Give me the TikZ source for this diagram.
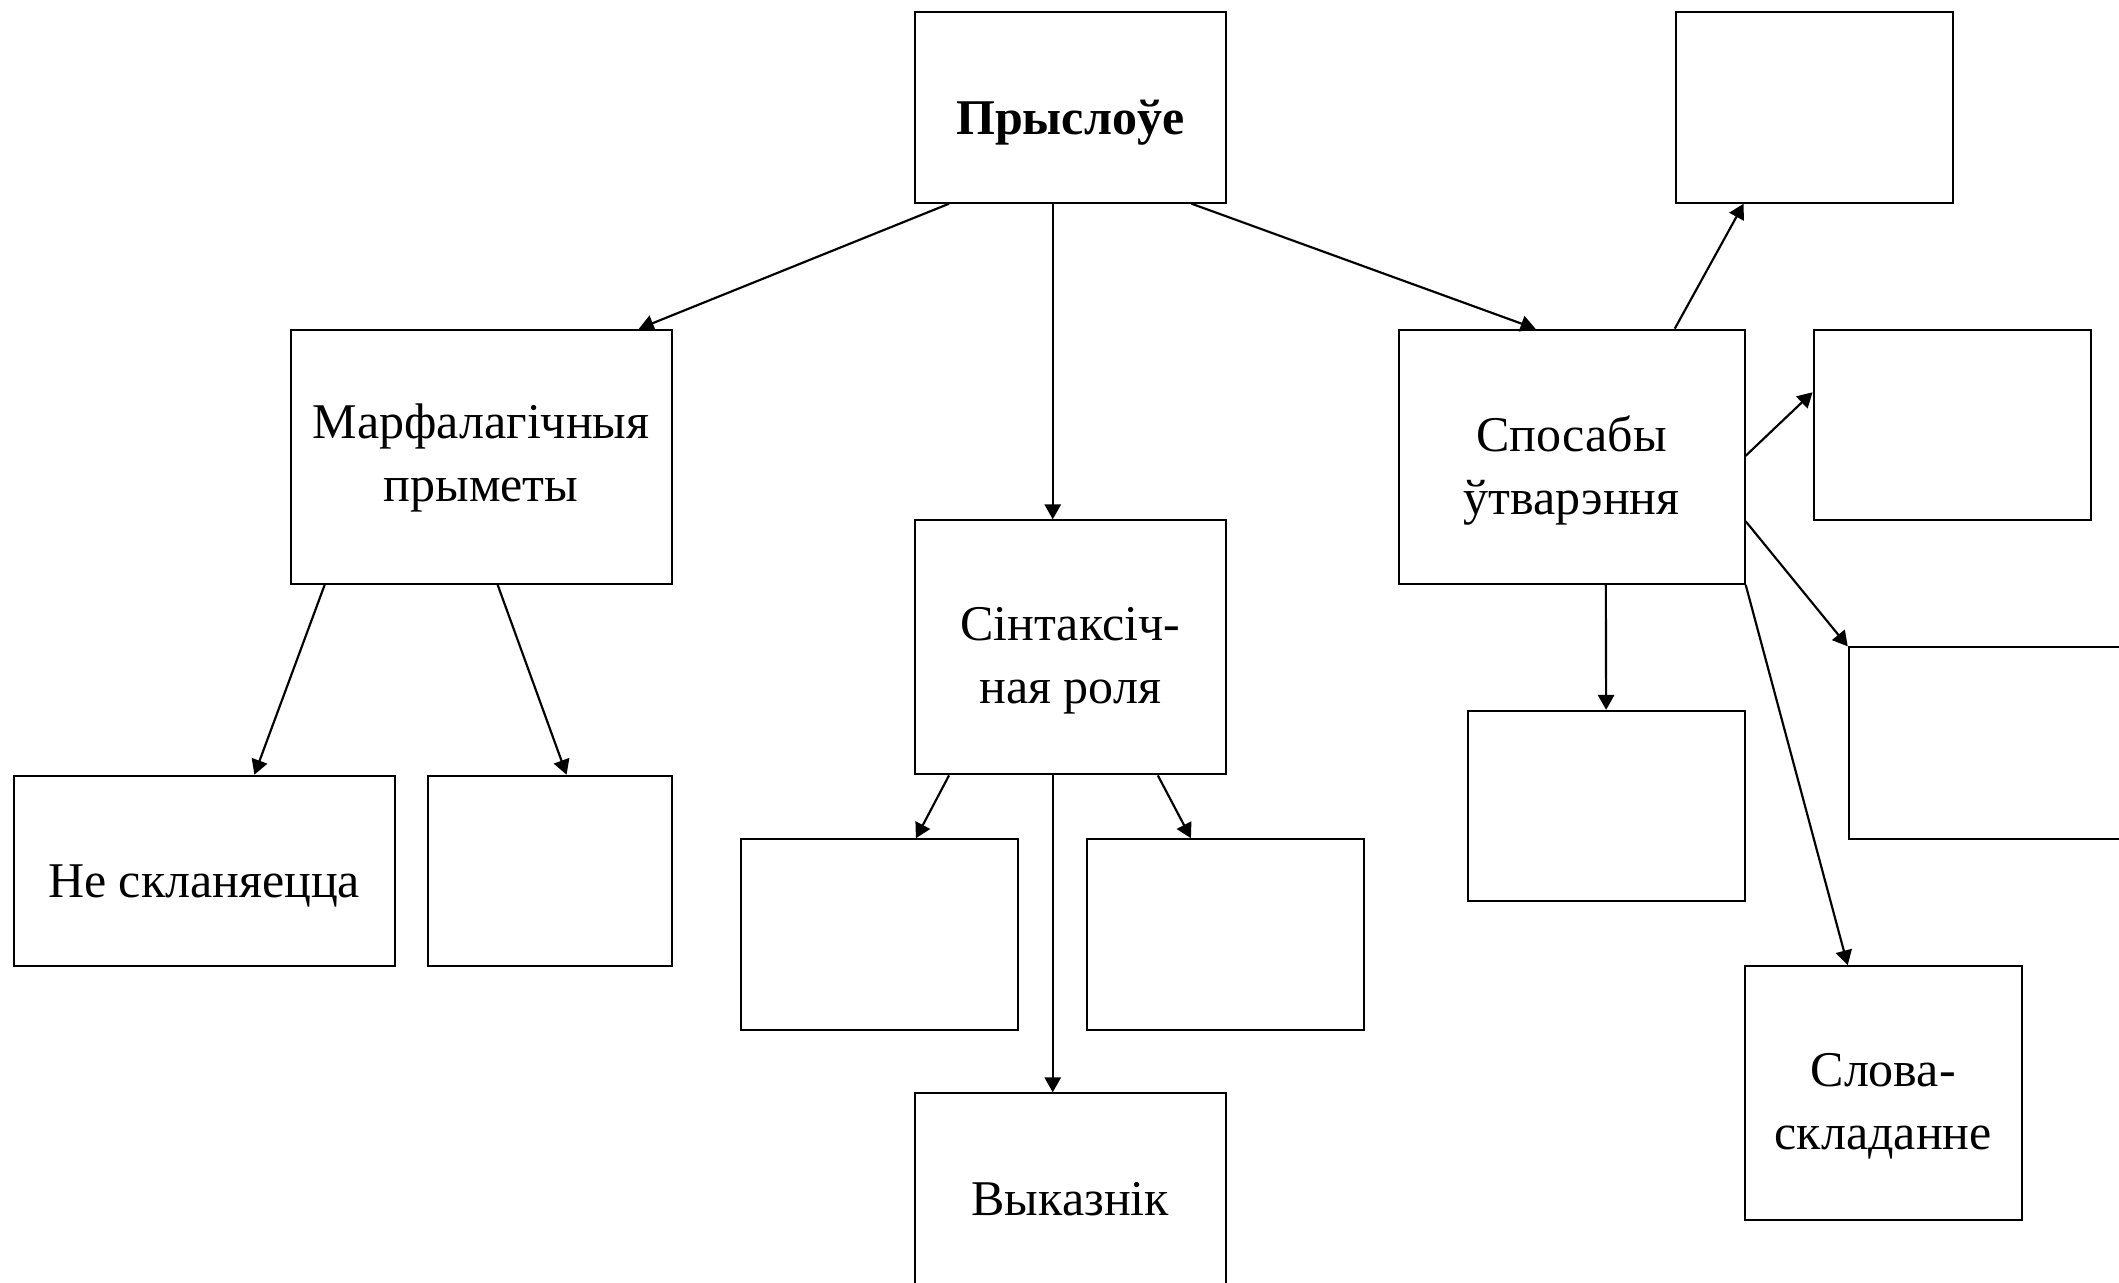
\documentclass[tikz,border=0pt]{standalone}
\usepackage{fontspec}
\setmainfont{Liberation Serif}
\usetikzlibrary{arrows.meta,calc}
\begin{document}
\begin{tikzpicture}[x=0.5pt, y=-0.5pt,
    box/.style={draw, line width=0.75pt, inner sep=0pt},
    txt/.style={align=center, inner sep=0pt, font=\fontsize{18.5}{23.5}\selectfont},
    arr/.style={line width=0.8pt, -{Triangle[length=5.5pt, width=6pt]}}]
    \useasboundingbox (0,0) rectangle (1568,949);
    \node[box, minimum width=115pt, minimum height=70.5pt,
        label={[txt, yshift=-5.5pt]center:\textbf{Прыслоўе}}] (top) at (792,79.5) {};
    \node[box, minimum width=141pt, minimum height=94pt,
        label={[txt, yshift=-0.5pt]center:{Марфалагічныя\\прыметы}}] (morph) at (356,338) {};
    \node[box, minimum width=115pt, minimum height=94pt,
        label={[txt, yshift=-5pt]center:{Сінтаксіч-\\ная роля}}] (synt) at (792,479) {};
    \node[box, minimum width=128pt, minimum height=94pt,
        label={[txt, yshift=-5pt]center:{Спосабы\\ўтварэння}}] (spos) at (1163,338) {};
    \node[box, minimum width=102.5pt, minimum height=70.5pt] (r1) at (1342.5,79.5) {};
    \node[box, minimum width=102.5pt, minimum height=70.5pt] (r2) at (1444.5,314.5) {};
    \node[box, minimum width=102.5pt, minimum height=71pt] (r3) at (1470.5,550) {};
    \node[box, minimum width=102.5pt, minimum height=70.5pt] (b1) at (1188.5,596.5) {};
    \node[box, minimum width=102.5pt, minimum height=94pt,
        label={[txt, yshift=-4.75pt]center:{Слова-\\складанне}}] (slova) at (1393.5,809) {};
    \node[box, minimum width=141pt, minimum height=70.5pt,
        label={[txt, yshift=-5.5pt]center:Не скланяецца}] (nesk) at (151,644.5) {};
    \node[box, minimum width=90pt, minimum height=70.5pt] (e2) at (407,644.5) {};
    \node[box, minimum width=102.5pt, minimum height=70.5pt] (s1) at (650.5,691.5) {};
    \node[box, minimum width=102.5pt, minimum height=70.5pt] (s2) at (906.5,691.5) {};
    \node[box, minimum width=115pt, minimum height=78pt,
        label={[txt]center:Выказнік}] (vyk) at (792,887) {};
    \draw[arr] ($(top.south west)+(26,0)$) -- ($(morph.north east)+(-25,0)$);
    \draw[arr] ($(top.south)+(-13,0)$) -- ($(synt.north)+(-13,0)$);
    \draw[arr] ($(top.south east)+(-26,0)$) -- ($(spos.north west)+(102,0)$);
    \draw[arr] ($(morph.south west)+(26,0)$) -- ($(nesk.north west)+(179,0)$);
    \draw[arr] ($(morph.south west)+(154,0)$) -- ($(e2.north west)+(103,0)$);
    \draw[arr] ($(synt.south west)+(26,0)$) -- ($(s1.north east)+(-76,0)$);
    \draw[arr] ($(synt.south east)+(-51,0)$) -- ($(s2.north west)+(78,0)$);
    \draw[arr] ($(synt.south)+(-13,0)$) -- ($(vyk.north)+(-13,0)$);
    \draw[arr] ($(spos.north west)+(205,0)$) -- ($(r1.south west)+(51,0)$);
    \draw[arr] ($(spos.north east)+(0,94)$) -- ($(r2.north west)+(0,47)$);
    \draw[arr] ($(spos.south east)+(0,-47)$) -- (r3.north west);
    \draw[arr] ($(spos.south west)+(154,0)$) -- (b1.north);
    \draw[arr] (spos.south east) -- ($(slova.north west)+(77,0)$);
\end{tikzpicture}
\end{document}
